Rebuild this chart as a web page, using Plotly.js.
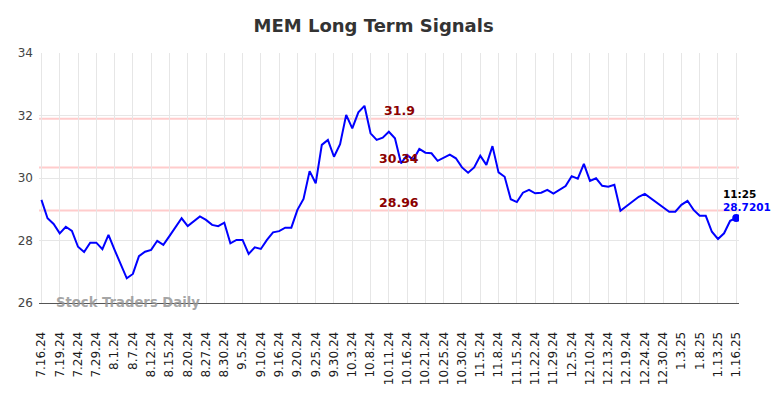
<!DOCTYPE html>
<html>
<head>
<meta charset="utf-8">
<script src="https://cdn.plot.ly/plotly-3.0.1.min.js"></script>
<style>html,body{margin:0;padding:0;background:#fff;}#chart{width:784px;height:398px;}</style>
</head>
<body>
<div id="chart"></div>
<script>
// Dates (trading sessions shown on the chart)
const dates = [
  "7.16.24","7.17.24","7.18.24","7.19.24","7.22.24","7.23.24","7.24.24","7.25.24","7.26.24","7.29.24",
  "7.30.24","7.31.24","8.1.24","8.2.24","8.5.24","8.7.24","8.8.24","8.9.24","8.12.24","8.13.24",
  "8.14.24","8.15.24","8.16.24","8.19.24","8.20.24","8.22.24","8.26.24","8.27.24","8.28.24","8.29.24",
  "8.30.24","9.3.24","9.4.24","9.5.24","9.6.24","9.9.24","9.10.24","9.12.24","9.13.24","9.16.24",
  "9.18.24","9.19.24","9.20.24","9.23.24","9.24.24","9.25.24","9.26.24","9.27.24","9.30.24","10.1.24",
  "10.2.24","10.3.24","10.4.24","10.7.24","10.8.24","10.9.24","10.10.24","10.11.24","10.14.24","10.15.24",
  "10.16.24","10.17.24","10.18.24","10.21.24","10.23.24","10.24.24","10.25.24","10.28.24","10.29.24","10.30.24",
  "10.31.24","11.4.24","11.5.24","11.6.24","11.7.24","11.8.24","11.12.24","11.14.24","11.15.24","11.19.24",
  "11.21.24","11.22.24","11.26.24","11.27.24","11.29.24","12.3.24","12.4.24","12.5.24","12.6.24","12.9.24",
  "12.10.24","12.11.24","12.12.24","12.13.24","12.17.24","12.18.24","12.19.24","12.20.24","12.23.24","12.24.24",
  "12.26.24","12.27.24","12.30.24","12.31.24","1.2.25","1.3.25","1.6.25","1.7.25","1.8.25","1.9.25",
  "1.10.25","1.13.25","1.14.25","1.15.25","1.16.25"
];
const prices = [
  29.30,28.71,28.53,28.23,28.44,28.31,27.80,27.63,27.93,27.93,
  27.72,28.18,27.70,27.27,26.79,26.93,27.50,27.64,27.70,27.99,
  27.86,28.14,28.44,28.71,28.46,28.62,28.77,28.66,28.50,28.46,
  28.57,27.91,28.02,28.02,27.57,27.78,27.73,28.02,28.26,28.30,
  28.41,28.41,28.98,29.33,30.22,29.83,31.06,31.22,30.68,31.08,
  32.02,31.59,32.10,32.31,31.43,31.22,31.29,31.48,31.27,30.47,
  30.74,30.58,30.93,30.81,30.79,30.55,30.66,30.75,30.63,30.34,
  30.17,30.34,30.71,30.42,31.02,30.18,30.04,29.32,29.23,29.53,
  29.62,29.51,29.53,29.62,29.50,29.62,29.74,30.06,29.98,30.45,
  29.91,29.99,29.75,29.72,29.78,28.95,29.10,29.24,29.40,29.49,
  29.35,29.21,29.06,28.92,28.92,29.14,29.27,28.98,28.79,28.79,
  28.28,28.05,28.23,28.63,28.7201
];
const levels = [31.9, 30.34, 28.96];
const levelLabels = ["31.9", "30.34", "28.96"];
const lastTime = "11:25";
const lastValueLabel = "28.7201";
const yTicks = [26, 28, 30, 32, 34];
const tickEvery = 3;

const tickVals = dates.filter((d, i) => i % tickEvery === 0);
const n = dates.length;

const traces = [
  {
    x: dates, y: prices, type: "scatter", mode: "lines",
    line: {color: "#0000ff", width: 2}, hoverinfo: "skip"
  },
  {
    x: [dates[n - 1]], y: [prices[n - 1]], type: "scatter", mode: "markers",
    marker: {color: "#0000ff", size: 8}, hoverinfo: "skip"
  }
];

const shapes = levels.map(v => ({
  type: "line", xref: "paper", x0: 0, x1: 1, yref: "y", y0: v, y1: v,
  line: {color: "#ffcccc", width: 2}, layer: "below"
}));

const annotations = levels.map((v, i) => ({
  x: 58.7, y: v, xref: "x", yref: "y", text: levelLabels[i], showarrow: false,
  yanchor: "bottom", xanchor: "center", yshift: -1,
  font: {family: "DejaVu Sans", size: 12.5, color: "#8b0000", weight: "bold"}
}));
annotations.push({
  x: n - 1, y: prices[n - 1], xref: "x", yref: "y", text: lastTime, showarrow: false,
  xanchor: "left", yanchor: "middle", xshift: -15, yshift: 24,
  font: {family: "DejaVu Sans", size: 10.5, color: "#000000", weight: "bold"}
});
annotations.push({
  x: n - 1, y: prices[n - 1], xref: "x", yref: "y", text: lastValueLabel, showarrow: false,
  xanchor: "left", yanchor: "middle", xshift: -15, yshift: 11,
  font: {family: "DejaVu Sans", size: 10.5, color: "#0000ff", weight: "bold"}
});
annotations.push({
  x: 0.021, xref: "paper", y: 26, yref: "y", text: "Stock Traders Daily", showarrow: false,
  xanchor: "left", yanchor: "middle", yshift: 1,
  font: {family: "DejaVu Sans", size: 13.2, color: "rgba(150,150,150,0.85)", weight: "bold"}
});

const layout = {
  width: 784, height: 398,
  margin: {l: 39, r: 45, t: 53, b: 95, pad: 0},
  paper_bgcolor: "#ffffff", plot_bgcolor: "#ffffff",
  showlegend: false,
  title: {
    text: "MEM Long Term Signals", x: 0.478, xref: "paper", xanchor: "center",
    y: 0.935, yref: "container", yanchor: "middle",
    font: {family: "DejaVu Sans", size: 18, color: "#333333", weight: "bold"}
  },
  xaxis: {
    type: "category", range: [-0.4, n - 1 + 0.45],
    tickmode: "array", tickvals: tickVals, ticktext: tickVals,
    tickangle: -90, ticks: "", ticklabelstandoff: 23,
    tickfont: {family: "DejaVu Sans", size: 12, color: "#1a1a1a", weight: 500},
    showgrid: true, gridcolor: "#e6e6e6", gridwidth: 1,
    showline: true, linecolor: "#555555", linewidth: 1,
    zeroline: false, fixedrange: true
  },
  yaxis: {
    range: [26, 34], tickmode: "array", tickvals: yTicks, ticktext: yTicks.map(String),
    ticks: "", ticklabelstandoff: 5,
    tickfont: {family: "DejaVu Sans", size: 12, color: "#444444"},
    showgrid: true, gridcolor: "#e6e6e6", gridwidth: 1,
    showline: false, zeroline: false, fixedrange: true
  },
  shapes: shapes,
  annotations: annotations
};

Plotly.newPlot("chart", traces, layout, {staticPlot: true, displayModeBar: false});
</script>
</body>
</html>
